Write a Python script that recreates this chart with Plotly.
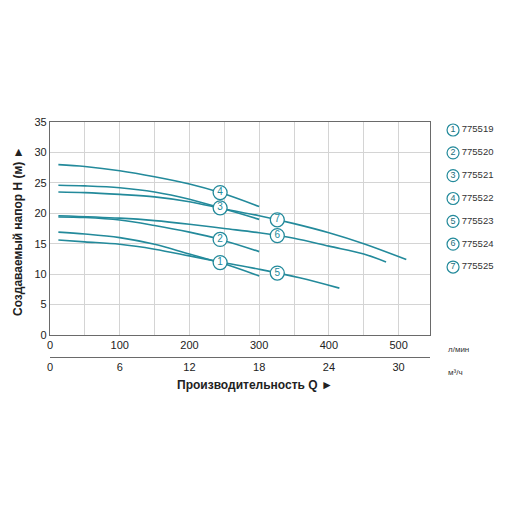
import numpy as np
import plotly.graph_objects as go

# Pump curves: flow Q (l/min) vs head H (m)
models = ["775519", "775520", "775521", "775522", "775523", "775524", "775525"]

q1 = [12, 50, 100, 150, 200, 244, 300]
h1 = [16.9, 16.6, 16.0, 14.9, 13.3, 11.9, 9.7]

q2 = [12, 50, 100, 150, 200, 244, 300]
h2 = [19.4, 19.3, 18.9, 18.0, 16.9, 15.7, 13.7]

q3 = [12, 50, 100, 150, 200, 244, 300]
h3 = [24.6, 24.5, 24.2, 23.5, 22.3, 20.9, 19.0]

q4 = [12, 50, 100, 150, 200, 244, 300]
h4 = [28.0, 27.7, 27.0, 26.0, 24.8, 23.4, 21.1]

q5 = [12, 50, 100, 150, 200, 244, 300, 358, 415]
h5 = [15.6, 15.3, 14.9, 14.1, 13.0, 12.0, 10.8, 9.4, 7.7]

q6 = [12, 100, 150, 200, 250, 300, 350, 400, 450, 482]
h6 = [19.6, 19.2, 18.8, 18.2, 17.5, 16.8, 15.9, 14.6, 13.3, 12.0]

q7 = [12, 50, 100, 150, 200, 250, 300, 350, 400, 450, 511]
h7 = [23.5, 23.4, 23.1, 22.7, 21.9, 20.7, 19.6, 18.3, 16.8, 15.0, 12.4]

curves = [(q1, h1), (q2, h2), (q3, h3), (q4, h4), (q5, h5), (q6, h6), (q7, h7)]
label_q = [244, 244, 244, 244, 326, 326, 326]   # where the numbered circles sit

x_ticks = [0, 100, 200, 300, 400, 500]
x2_ticks = [0, 6, 12, 18, 24, 30]
LPM_TO_M3H = 0.06
Q_MAX = 545

TEAL = "#238a9b"
GRID = "#d4d4d4"
FRAME = "#6a6a6a"
FONT = "Liberation Sans, Arial, sans-serif"

fig = go.Figure()

for q, h in curves:
    fig.add_trace(go.Scatter(x=q, y=h, mode="lines",
                             line=dict(color=TEAL, width=1.6, shape="spline"),
                             hoverinfo="skip"))

# numbered circles on the curves
lab_h = [float(np.interp(lq, q, h)) for lq, (q, h) in zip(label_q, curves)]
fig.add_trace(go.Scatter(
    x=label_q, y=lab_h, mode="markers+text",
    text=[str(i + 1) for i in range(len(models))],
    textposition="middle center",
    textfont=dict(family=FONT, size=10, color=TEAL),
    marker=dict(size=14, color="white", line=dict(color=TEAL, width=1.3)),
    hoverinfo="skip"))

# invisible trace so the m3/h axis is drawn
fig.add_trace(go.Scatter(x=[0, Q_MAX * LPM_TO_M3H], y=[0, 0], xaxis="x2",
                         mode="lines", line=dict(width=0), hoverinfo="skip"))

# side legend
idx = list(range(len(models)))
fig.add_trace(go.Scatter(
    x=[0.15] * len(models), y=idx, xaxis="x3", yaxis="y3",
    mode="markers+text", text=[str(i + 1) for i in idx],
    textposition="middle center",
    textfont=dict(family=FONT, size=9, color="#1d6f7d"),
    marker=dict(size=12, color="white", line=dict(color=TEAL, width=1.2)),
    hoverinfo="skip"))
fig.add_trace(go.Scatter(
    x=[0.28] * len(models), y=idx, xaxis="x3", yaxis="y3",
    mode="text", text=models, textposition="middle right",
    textfont=dict(family=FONT, size=9.5, color="#333333"),
    hoverinfo="skip"))

# the page body adds an 8px offset, so the margins are set 8px smaller
OFF = 8
W, H = 512, 512
ML, MR, MT, MB = 50 - OFF, 10, 122 - OFF, 152
pw, ph = W - ML - MR, H - MT - MB


def px_x(p):
    return (p - OFF - ML) / pw


def px_y(p):
    return (H - MB - (p - OFF)) / ph


axis_font = dict(family=FONT, size=11, color="#222222")


def note(text, x, y, size, **kw):
    return dict(text=text, x=px_x(x), y=px_y(y), xref="paper", yref="paper",
                xanchor=kw.pop("xanchor", "center"), yanchor="middle",
                showarrow=False,
                font=dict(family=FONT, size=size, color=kw.pop("color", "#222222")),
                **kw)


fig.update_layout(
    width=W, height=H,
    margin=dict(l=ML, r=MR, t=MT, b=MB),
    paper_bgcolor="white", plot_bgcolor="white",
    showlegend=False,
    xaxis=dict(domain=[0, px_x(430)], range=[0, Q_MAX], tickvals=x_ticks,
               showgrid=True, gridcolor=GRID, gridwidth=1,
               minor=dict(dtick=50, tick0=0, showgrid=True, gridcolor=GRID),
               showline=True, linecolor=FRAME, linewidth=1.2, mirror=True,
               ticks="", tickfont=axis_font, zeroline=False, anchor="y"),
    yaxis=dict(domain=[px_y(335), 1], range=[0, 35], dtick=5,
               showgrid=True, gridcolor=GRID, gridwidth=1,
               showline=True, linecolor=FRAME, linewidth=1.2, mirror=True,
               ticks="", tickfont=axis_font, zeroline=False, anchor="x"),
    xaxis2=dict(overlaying="x", anchor="free", position=px_y(357), side="bottom",
                range=[0, Q_MAX * LPM_TO_M3H], tickvals=x2_ticks,
                showgrid=False, zeroline=False, showline=True,
                linecolor=FRAME, linewidth=1, ticks="", tickfont=axis_font),
    xaxis3=dict(domain=[px_x(443), 1], range=[0, 1], visible=False,
                anchor="y3"),
    yaxis3=dict(domain=[0, 1], range=[10.42, -0.35], visible=False,
                anchor="x3"),
    annotations=[
        note("<b>Создаваемый напор H (м) ►</b>", 18, 231, 12, textangle=-90),
        note("<b>Производительность Q ►</b>", 255, 385, 12),
        note("л/мин", 446, 349, 8, xanchor="left", color="#333333"),
        note("м³/ч", 446, 372, 8, xanchor="left", color="#333333"),
    ],
)

fig.write_html("out.html")
